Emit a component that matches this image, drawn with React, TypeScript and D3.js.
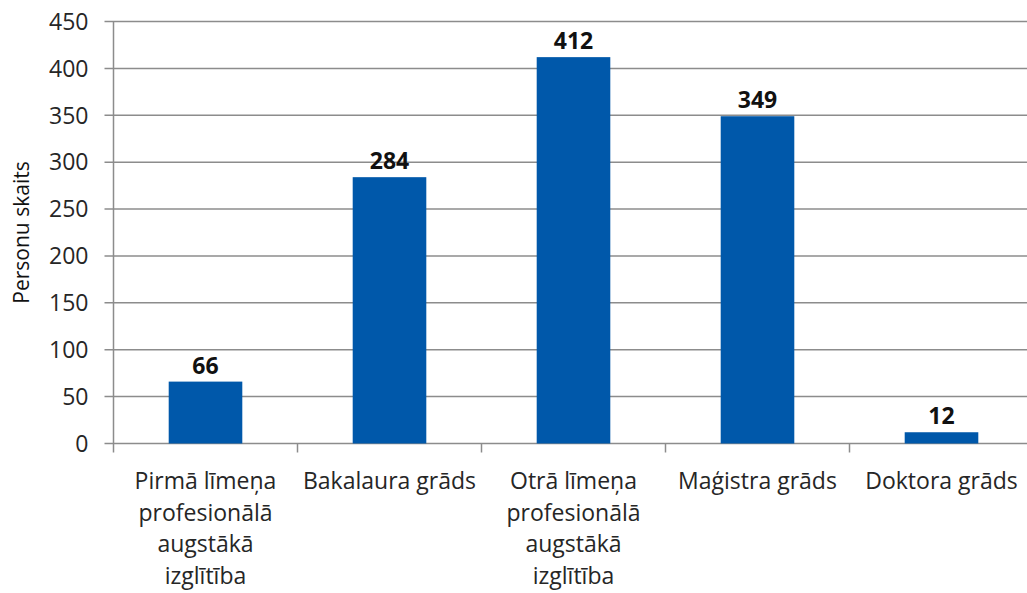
import React, { useEffect, useRef } from 'react';
import * as d3 from 'd3';

const categories = [
  'Pirmā līmeņa profesionālā augstākā izglītība',
  'Bakalaura grāds',
  'Otrā līmeņa profesionālā augstākā izglītība',
  'Maģistra grāds',
  'Doktora grāds',
];
const values = [66, 284, 412, 349, 12];
const yTicks = [0, 50, 100, 150, 200, 250, 300, 350, 400, 450];
const yTitle = 'Personu skaits';

const W = 1027;
const H = 593;
const FONT = '"Open Sans", sans-serif';

export default function App() {
  const svgRef = useRef<SVGSVGElement>(null);

  useEffect(() => {
    const svg = d3.select(svgRef.current);
    svg.selectAll('*').remove();

    const left = 113.5;
    const step = 184;
    const right = left + step * categories.length;
    const top = 21.5;
    const bottom = 443.5;

    const x = d3.scaleBand<number>()
      .domain(categories.map((d, i) => i))
      .range([left, right])
      .paddingInner(0)
      .paddingOuter(0);
    const y = d3.scaleLinear().domain([0, 450]).range([bottom, top]);
    const barW = x.step() * 0.4;

    // gridlines
    svg.append('g')
      .selectAll('line')
      .data(yTicks)
      .enter()
      .append('line')
      .attr('x1', left - 9)
      .attr('x2', W)
      .attr('y1', d => y(d))
      .attr('y2', d => y(d))
      .attr('stroke', '#8c8c8c')
      .attr('stroke-width', 1.5);

    // y axis line
    svg.append('line')
      .attr('x1', left).attr('x2', left)
      .attr('y1', top).attr('y2', bottom + 9)
      .attr('stroke', '#8c8c8c')
      .attr('stroke-width', 1.5);

    // x category ticks
    svg.append('g')
      .selectAll('line')
      .data(d3.range(1, categories.length + 1))
      .enter()
      .append('line')
      .attr('x1', d => left + d * step)
      .attr('x2', d => left + d * step)
      .attr('y1', bottom)
      .attr('y2', bottom + 9)
      .attr('stroke', '#8c8c8c')
      .attr('stroke-width', 1.5);

    // y tick labels
    svg.append('g')
      .selectAll('text')
      .data(yTicks)
      .enter()
      .append('text')
      .attr('x', left - 25)
      .attr('y', d => y(d))
      .attr('dy', '0.36em')
      .attr('text-anchor', 'end')
      .style('font-family', FONT)
      .style('font-size', '23px')
      .style('fill', '#262626')
      .text(d => d);

    // bars
    svg.append('g')
      .selectAll('rect')
      .data(values)
      .enter()
      .append('rect')
      .attr('x', (d, i) => (x(i) as number) + (step - barW) / 2)
      .attr('y', d => y(d))
      .attr('width', barW)
      .attr('height', d => bottom - y(d))
      .attr('fill', '#0058AA');

    // value labels
    svg.append('g')
      .selectAll('text')
      .data(values)
      .enter()
      .append('text')
      .attr('x', (d, i) => (x(i) as number) + step / 2)
      .attr('y', d => y(d) - 8)
      .attr('text-anchor', 'middle')
      .style('font-family', FONT)
      .style('font-size', '23px')
      .style('font-weight', 'bold')
      .style('fill', '#111')
      .text(d => d);

    // category labels, wrapped
    const labels = svg.append('g')
      .selectAll('text')
      .data(categories)
      .enter()
      .append('text')
      .attr('x', (d, i) => (x(i) as number) + step / 2)
      .attr('y', 489)
      .attr('text-anchor', 'middle')
      .style('font-family', FONT)
      .style('font-size', '23px')
      .style('fill', '#262626');

    labels.each(function (d) {
      const text = d3.select(this);
      const cx = text.attr('x');
      const words = d.split(' ');
      let line: string[] = [];
      let tspan = text.append('tspan').attr('x', cx).attr('dy', 0);
      words.forEach(w => {
        line.push(w);
        tspan.text(line.join(' '));
        const node = tspan.node() as SVGTSpanElement;
        if (node.getComputedTextLength() > 182 && line.length > 1) {
          line.pop();
          tspan.text(line.join(' '));
          line = [w];
          tspan = text.append('tspan').attr('x', cx).attr('dy', 31.5).text(w);
        }
      });
    });

    // y title
    svg.append('text')
      .attr('transform', `translate(29,${(top + bottom) / 2}) rotate(-90)`)
      .attr('text-anchor', 'middle')
      .style('font-family', FONT)
      .style('font-size', '21px')
      .style('fill', '#111')
      .text(yTitle);
  }, []);

  return (
    <svg
      ref={svgRef}
      width={W}
      height={H}
      style={{ position: 'absolute', left: 0, top: 0, background: 'white' }}
    />
  );
}
